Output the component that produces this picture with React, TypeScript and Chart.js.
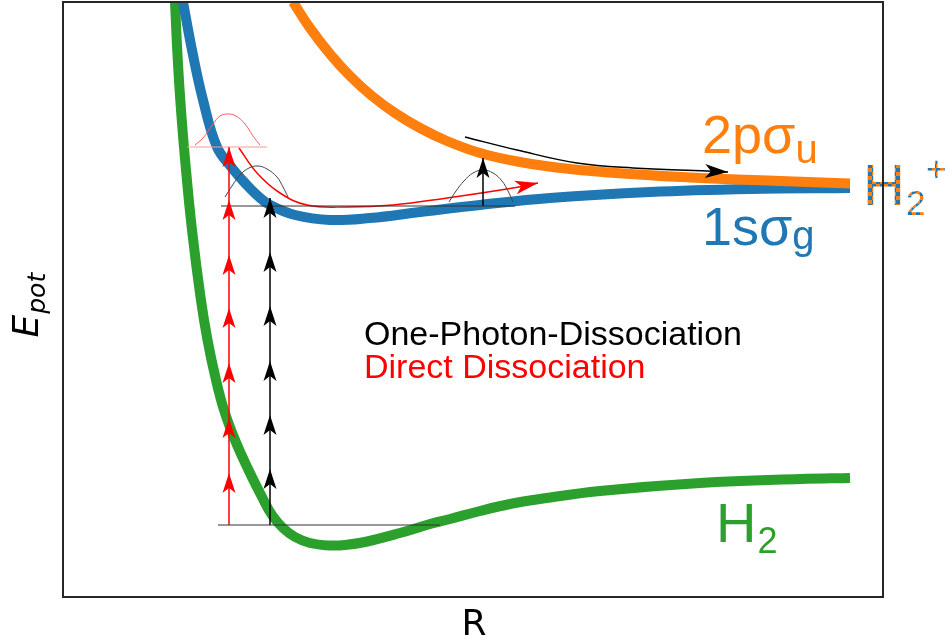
import React, { useEffect, useRef } from "react";
import { Chart, registerables } from "chart.js";

Chart.register(...registerables);

// ---------- potential curves (R and E in arbitrary units) ----------
const h2R = [1.12, 1.145, 1.18, 1.23, 1.29, 1.375, 1.445, 1.53, 1.61, 1.72, 1.855, 1.99, 2.09, 2.2, 2.32, 2.47, 2.67, 2.82, 3.02, 3.37, 3.67, 3.87, 4.17, 4.47, 4.77, 5.37, 6.37, 7.37, 7.87];
const h2E = [5.95, 5.42, 4.87, 4.27, 3.67, 3.0, 2.57, 2.17, 1.87, 1.57, 1.27, 1.0, 0.82, 0.69, 0.6, 0.54, 0.515, 0.52, 0.55, 0.64, 0.73, 0.78, 0.86, 0.93, 0.98, 1.06, 1.14, 1.18, 1.19];

const sgR = [1.2, 1.29, 1.4, 1.54, 1.69, 1.82, 1.95, 2.07, 2.32, 2.67, 3.07, 3.57, 4.17, 4.87, 5.87, 6.87, 7.87];
const sgE = [5.95, 5.47, 4.97, 4.5, 4.29, 4.14, 4.01, 3.92, 3.82, 3.77, 3.79, 3.85, 3.92, 3.99, 4.05, 4.08, 4.09];

const suR = [2.3, 2.47, 2.67, 2.87, 3.09, 3.32, 3.57, 3.84, 4.17, 4.57, 5.07, 5.67, 6.37, 7.17, 7.87];
const suE = [5.95, 5.69, 5.43, 5.21, 5.01, 4.84, 4.69, 4.56, 4.44, 4.35, 4.28, 4.23, 4.19, 4.16, 4.135];

// ---------- energy levels ----------
const groundLevelR = [1.55, 3.77];
const groundLevelE = [0.72, 0.72];
const ionLevelR = [1.58, 4.52];
const ionLevelE = [3.91, 3.91];

// ---------- photon ladders ----------
const redLadderR = [1.66, 1.66];
const redLadderE = [0.72, 4.5];
const redLadderTips = [4.5, 3.97, 3.42, 2.89, 2.34, 1.79, 1.24];
const blackLadderR = [2.07, 2.07];
const blackLadderE = [0.72, 3.99];
const blackLadderTips = [3.99, 3.45, 2.91, 2.36, 1.82, 1.28];

// ---------- wave packets ----------
const redPacketR = [1.32, 1.4, 1.5, 1.57, 1.65, 1.73, 1.82, 1.9, 1.97];
const redPacketE = [4.52, 4.59, 4.73, 4.81, 4.83, 4.81, 4.73, 4.61, 4.52];
const redPacketBaseR = [1.24, 2.04];
const redPacketBaseE = [4.5, 4.5];
const blackPacket1R = [1.62, 1.69, 1.77, 1.86, 1.95, 2.04, 2.14, 2.2, 2.25];
const blackPacket1E = [4.0, 4.11, 4.22, 4.29, 4.31, 4.28, 4.2, 4.1, 4.0];
const blackPacket2R = [3.86, 3.93, 4.01, 4.1, 4.2, 4.3, 4.39, 4.45, 4.5];
const blackPacket2E = [3.95, 4.06, 4.16, 4.24, 4.27, 4.24, 4.16, 4.06, 3.95];
const packetArrowR = [4.2, 4.2];
const packetArrowE = [3.91, 4.39];

// ---------- dissociation paths ----------
const redPathR = [1.76, 1.94, 2.17, 2.44, 2.84, 3.3, 3.84, 4.5, 4.75];
const redPathE = [4.49, 4.24, 4.04, 3.92, 3.9, 3.92, 3.99, 4.09, 4.14];
const blackPathR = [4.02, 4.54, 5.14, 5.7, 6.44, 6.65];
const blackPathE = [4.6, 4.47, 4.34, 4.29, 4.26, 4.25];

// ---------- text ----------
const xLabel = "R";
const yLabelMain = "E";
const yLabelSub = "pot";
const legendBlack = "One-Photon-Dissociation";
const legendRed = "Direct Dissociation";

const ORANGE = "#ff7f0e";
const BLUE = "#1f77b4";
const GREEN = "#2ca02c";

const pts = (R: number[], E: number[]) => R.map((r, i) => ({ x: r, y: E[i] }));

const SANS = '"Liberation Sans", Arial, sans-serif';
const DJV = '"DejaVu Sans", sans-serif';

function head(ctx: CanvasRenderingContext2D, x: number, y: number, ang: number, len: number, hw: number, notch: number, color: string) {
  ctx.save();
  ctx.translate(x, y);
  ctx.rotate(ang);
  ctx.beginPath();
  ctx.moveTo(0, 0);
  ctx.lineTo(-len, -hw);
  ctx.lineTo(-len + notch, 0);
  ctx.lineTo(-len, hw);
  ctx.closePath();
  ctx.fillStyle = color;
  ctx.fill();
  ctx.restore();
}

type Part = { t: string; size: number; dx?: number; dy?: number };
function rich(ctx: CanvasRenderingContext2D, x: number, y: number, parts: Part[], fill: any, family: string, italic = false) {
  let cx = x;
  ctx.save();
  ctx.fillStyle = fill;
  ctx.textBaseline = "alphabetic";
  ctx.textAlign = "left";
  for (const p of parts) {
    ctx.font = `${italic ? "italic " : ""}${p.size}px ${family}`;
    cx += p.dx || 0;
    ctx.fillText(p.t, cx, y + (p.dy || 0));
    cx += ctx.measureText(p.t).width;
  }
  ctx.restore();
}

const overlay = {
  id: "overlay",
  afterDatasetsDraw(chart: any) {
    const { ctx, chartArea, scales } = chart;
    const X = (r: number) => scales.x.getPixelForValue(r);
    const Y = (e: number) => scales.y.getPixelForValue(e);

    // ladder arrowheads
    redLadderTips.forEach((e) => head(ctx, X(redLadderR[0]), Y(e), -Math.PI / 2, 20, 6.5, 5, "#ff0000"));
    blackLadderTips.forEach((e) => head(ctx, X(blackLadderR[0]), Y(e), -Math.PI / 2, 20, 6.5, 5, "#000000"));
    head(ctx, X(packetArrowR[1]), Y(packetArrowE[1]), -Math.PI / 2, 20, 6.5, 5, "#000000");

    // path arrowheads
    const endHead = (R: number[], E: number[], color: string) => {
      const n = R.length;
      const x1 = X(R[n - 2]), y1 = Y(E[n - 2]), x2 = X(R[n - 1]), y2 = Y(E[n - 1]);
      head(ctx, x2, y2, Math.atan2(y2 - y1, x2 - x1), 23, 7, 6, color);
    };
    endHead(redPathR, redPathE, "#ff0000");
    endHead(blackPathR, blackPathE, "#000000");

    // curve labels
    rich(ctx, X(6.39), Y(4.44), [{ t: "2pσ", size: 54 }, { t: "u", size: 40, dy: 10 }], ORANGE, SANS);
    rich(ctx, X(6.39), Y(3.52), [{ t: "1sσ", size: 54 }, { t: "g", size: 40, dy: 4 }], BLUE, SANS);
    rich(ctx, X(6.53), Y(0.55), [{ t: "H", size: 56 }, { t: "2", size: 36, dx: 1, dy: 11 }], GREEN, SANS);

    // H2+ striped label
    const pc = document.createElement("canvas");
    pc.width = 8;
    pc.height = 8;
    const p = pc.getContext("2d")!;
    p.fillStyle = ORANGE;
    p.fillRect(0, 0, 8, 8);
    p.fillStyle = BLUE;
    p.fillRect(0, 0, 4, 4);
    p.fillRect(4, 4, 4, 4);
    const pat = ctx.createPattern(pc, "repeat");
    rich(ctx, X(8.0), Y(3.92), [{ t: "H", size: 58 }], pat, SANS);
    ctx.save();
    ctx.font = `58px ${SANS}`;
    const hw = ctx.measureText("H").width;
    ctx.restore();
    rich(ctx, X(8.0) + hw + 1, Y(3.92) + 10, [{ t: "2", size: 35 }], pat, SANS);
    rich(ctx, X(8.0) + hw + 21, Y(3.92) - 24, [{ t: "+", size: 35 }], pat, SANS);

    // process legend
    rich(ctx, X(3.01), Y(2.52), [{ t: legendBlack, size: 34 }], "#000000", SANS);
    rich(ctx, X(3.01), Y(2.19), [{ t: legendRed, size: 34 }], "#ff0000", SANS);

    // axis labels
    ctx.save();
    ctx.fillStyle = "#000";
    ctx.font = `36px ${DJV}`;
    ctx.textAlign = "center";
    ctx.textBaseline = "alphabetic";
    ctx.fillText(xLabel, (chartArea.left + chartArea.right) / 2 + 1, chartArea.bottom + 38);
    ctx.restore();

    ctx.save();
    ctx.translate(chartArea.left - 25, (chartArea.top + chartArea.bottom) / 2 + 38);
    ctx.rotate(-Math.PI / 2);
    rich(ctx, 0, 0, [{ t: yLabelMain, size: 36 }, { t: yLabelSub, size: 25, dx: 1, dy: 7 }], "#000", DJV, true);
    ctx.restore();

    // frame
    ctx.save();
    ctx.strokeStyle = "#262626";
    ctx.lineWidth = 2;
    ctx.strokeRect(chartArea.left, chartArea.top, chartArea.right - chartArea.left, chartArea.bottom - chartArea.top);
    ctx.restore();
  },
};

export default function App() {
  const ref = useRef<HTMLCanvasElement>(null);

  useEffect(() => {
    document.body.style.margin = "0";
    document.body.style.overflow = "hidden";
    const thin = (R: number[], E: number[], color: string, w: number, smooth = false) => ({
      data: pts(R, E),
      borderColor: color,
      borderWidth: w,
      pointRadius: 0,
      tension: smooth ? 0.4 : 0,
      order: 0,
    });
    const thick = (R: number[], E: number[], color: string, order: number) => ({
      data: pts(R, E),
      borderColor: color,
      borderWidth: 10,
      pointRadius: 0,
      tension: 0.4,
      borderJoinStyle: "round",
      order,
    });
    const chart = new Chart(ref.current!, {
      type: "line",
      data: {
        datasets: [
          thin(groundLevelR, groundLevelE, "#333333", 1.2),
          thin(ionLevelR, ionLevelE, "#333333", 1.2),
          thin(redPacketBaseR, redPacketBaseE, "#ff9a9a", 1),
          thin(redPacketR, redPacketE, "#ff5a5a", 1, true),
          thin(blackPacket1R, blackPacket1E, "#444444", 1, true),
          thin(blackPacket2R, blackPacket2E, "#444444", 1, true),
          thin(redLadderR, redLadderE, "#ff0000", 1.5),
          thin(blackLadderR, blackLadderE, "#000000", 1.5),
          thin(packetArrowR, packetArrowE, "#000000", 1.5),
          thin(redPathR, redPathE, "#ff0000", 1.5, true),
          thin(blackPathR, blackPathE, "#000000", 1.5, true),
          thick(suR, suE, ORANGE, 1),
          thick(sgR, sgE, BLUE, 2),
          thick(h2R, h2E, GREEN, 3),
        ] as any,
      },
      options: {
        responsive: false,
        animation: false,
        events: [],
        layout: { padding: { left: 63, top: 2, right: 68, bottom: 46 } },
        plugins: { legend: { display: false }, tooltip: { enabled: false } },
        scales: {
          x: { type: "linear", min: 0, max: 8.2, display: false },
          y: { type: "linear", min: 0, max: 5.95, display: false },
        },
      },
      plugins: [overlay],
    });
    return () => chart.destroy();
  }, []);

  return <canvas ref={ref} width={951} height={643} style={{ display: "block" }} />;
}
